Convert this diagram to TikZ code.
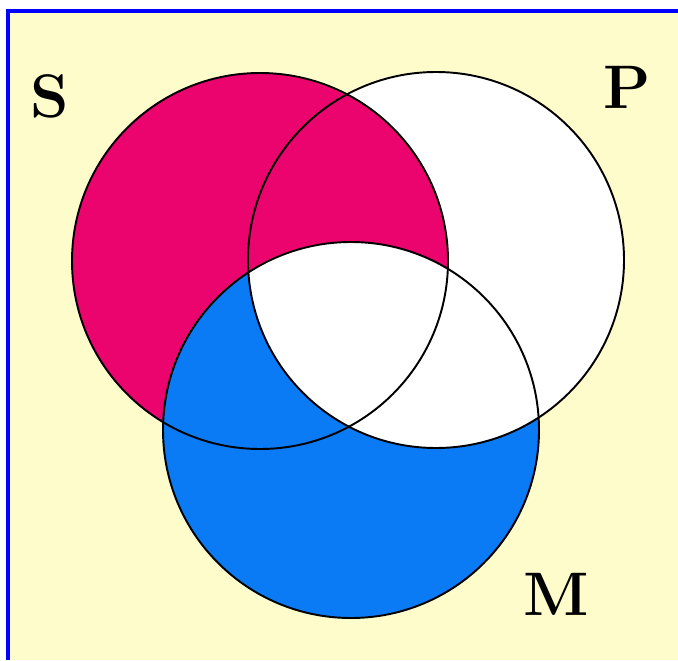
\documentclass[tikz,border=0pt]{standalone}
\usepackage{xcolor}
\usepackage{tikz}
\usetikzlibrary{positioning}

\definecolor{paper}{RGB}{255,252,204}
\definecolor{frameblue}{RGB}{0,0,255}
\definecolor{setS}{RGB}{236,4,110}
\definecolor{setM}{RGB}{10,122,245}

\begin{document}
\begin{tikzpicture}[
  x=0.02cm, y=0.02cm,
  outline/.style={draw=black, line width=1.1pt},
  setlabel/.style={font=\fontsize{35}{35}\selectfont\bfseries, inner sep=0pt}
]
  \useasboundingbox (0,0) rectangle (678,660);
  \fill[white] (0,0) rectangle (678,660);
  \fill[paper] (8,0) rectangle (678,649);
  \draw[frameblue, line width=2pt] (8,0) -- (8,649) -- (678,649);

  \coordinate (cS) at (260,399);
  \coordinate (cP) at (436,400);
  \coordinate (cM) at (351,230);

  \fill[setS] (cS) circle (188);
  \fill[setM] (cM) circle (188);
  \fill[white] (cP) circle (188);
  \begin{scope}
    \clip (cS) circle (188);
    \fill[setS] (cP) circle (188);
    \clip (cP) circle (188);
    \fill[white] (cM) circle (188);
  \end{scope}

  \draw[outline] (cS) circle (188);
  \draw[outline] (cP) circle (188);
  \draw[outline] (cM) circle (188);

  \node[setlabel] (labS) at (50,564) {S};
  \node[setlabel] (labP) at (627,573) {P};
  \node[setlabel] (labM) at (556,66) {M};
\end{tikzpicture}
\end{document}
